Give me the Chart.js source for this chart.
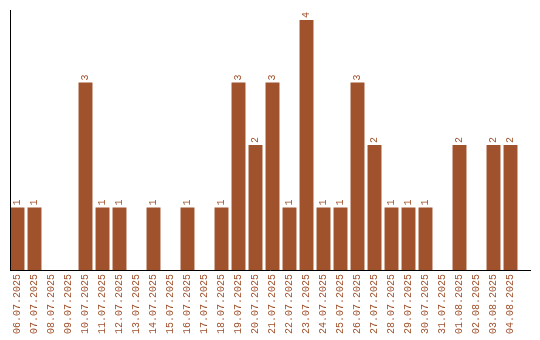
<!DOCTYPE html>
<html>
<head>
<meta charset="utf-8">
<script src="https://cdn.jsdelivr.net/npm/chart.js@4"></script>
<style>
  html, body { margin: 0; padding: 0; background: #fff; }
  #chart { display: block; }
</style>
</head>
<body>
<canvas id="chart" width="540" height="340"></canvas>
<script>
(function () {
  "use strict";

  var days = [
    "06.07.2025", "07.07.2025", "08.07.2025", "09.07.2025", "10.07.2025",
    "11.07.2025", "12.07.2025", "13.07.2025", "14.07.2025", "15.07.2025",
    "16.07.2025", "17.07.2025", "18.07.2025", "19.07.2025", "20.07.2025",
    "21.07.2025", "22.07.2025", "23.07.2025", "24.07.2025", "25.07.2025",
    "26.07.2025", "27.07.2025", "28.07.2025", "29.07.2025", "30.07.2025",
    "31.07.2025", "01.08.2025", "02.08.2025", "03.08.2025", "04.08.2025"
  ];
  var counts = [
    1, 1, 0, 0, 3,
    1, 1, 0, 1, 0,
    1, 0, 1, 3, 2,
    3, 1, 4, 1, 1,
    3, 2, 1, 1, 1,
    0, 2, 0, 2, 2
  ];

  var brown = "#a0522d";
  var font = { family: "'Liberation Mono', monospace", size: 10 };

  // rotated value labels above each bar
  var valueLabels = {
    id: "valueLabels",
    afterDatasetsDraw: function (chart) {
      var ctx = chart.ctx;
      var meta = chart.getDatasetMeta(0);
      ctx.save();
      ctx.fillStyle = brown;
      ctx.font = font.size + "px " + font.family;
      ctx.textAlign = "left";
      ctx.textBaseline = "middle";
      meta.data.forEach(function (bar, i) {
        var v = counts[i];
        if (!v) return;
        ctx.save();
        ctx.translate(bar.x, bar.y - 2);
        ctx.rotate(-Math.PI / 2);
        ctx.fillText(String(v), 0, 0);
        ctx.restore();
      });
      ctx.restore();
    }
  };

  // axis lines: bottom one runs a bit past the last bar
  var axisLines = {
    id: "axisLines",
    afterDraw: function (chart) {
      var a = chart.chartArea;
      var ctx = chart.ctx;
      ctx.save();
      ctx.strokeStyle = "#000";
      ctx.lineWidth = 1;
      ctx.beginPath();
      ctx.moveTo(a.left + 1.5, a.top);
      ctx.lineTo(a.left + 1.5, a.bottom);
      ctx.moveTo(a.left + 1, a.bottom + 0.5);
      ctx.lineTo(a.right + 12, a.bottom + 0.5);
      ctx.stroke();
      ctx.restore();
    }
  };

  new Chart(document.getElementById("chart"), {
    type: "bar",
    data: {
      labels: days,
      datasets: [{
        data: counts,
        backgroundColor: brown,
        borderWidth: 0,
        categoryPercentage: 1,
        barPercentage: 0.82
      }]
    },
    options: {
      responsive: false,
      animation: false,
      devicePixelRatio: 1,
      layout: { padding: { left: 9, top: 10, right: 21, bottom: 0 } },
      plugins: { legend: { display: false }, tooltip: { enabled: false } },
      scales: {
        x: {
          offset: true,
          grid: { display: false, drawTicks: false },
          border: { display: false },
          ticks: {
            color: brown,
            font: font,
            minRotation: 90,
            maxRotation: 90,
            autoSkip: false,
            padding: 4
          },
          afterFit: function (scale) { scale.height = 70; }
        },
        y: {
          min: 0,
          max: 4.16,
          grid: { display: false },
          border: { display: false },
          ticks: { display: false },
          afterFit: function (scale) { scale.width = 0; }
        }
      }
    },
    plugins: [valueLabels, axisLines]
  });
})();
</script>
</body>
</html>
